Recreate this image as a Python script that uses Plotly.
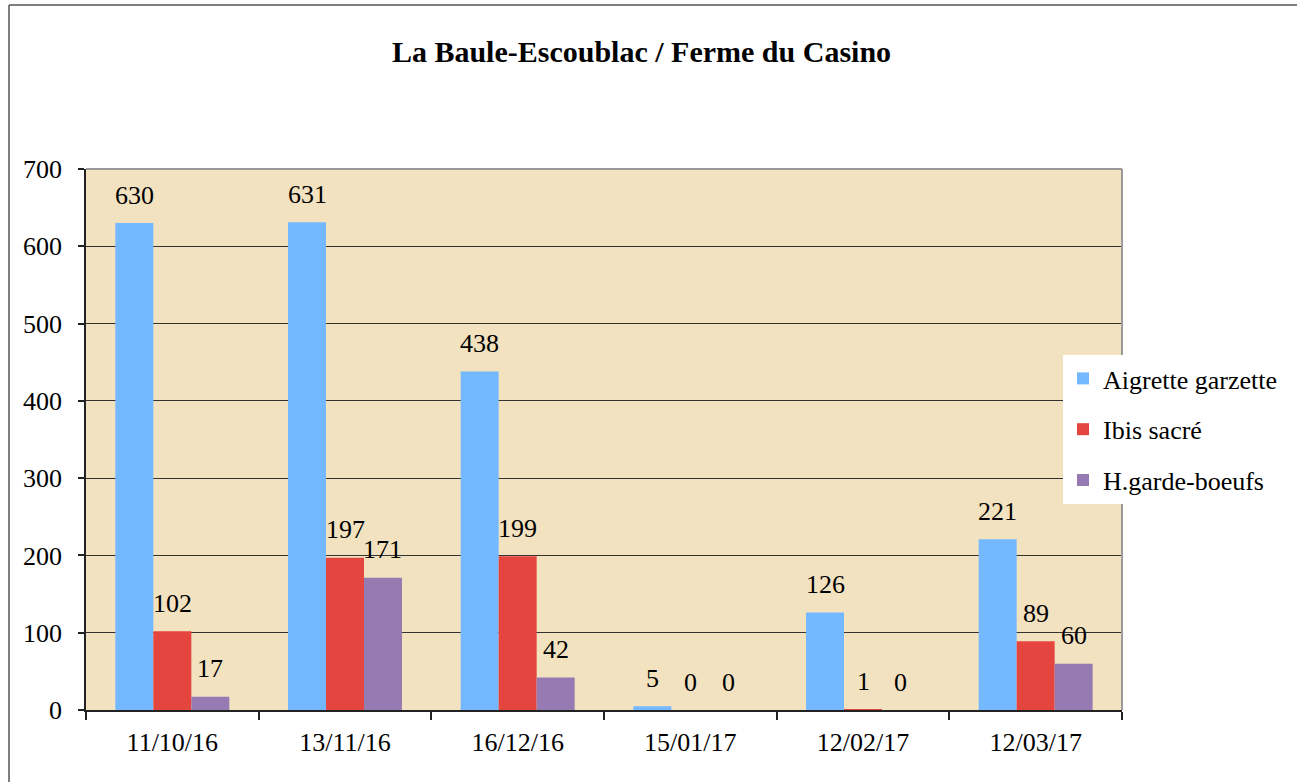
import plotly.graph_objects as go

dates = ["11/10/16", "13/11/16", "16/12/16", "15/01/17", "12/02/17", "12/03/17"]
series_names = ["Aigrette garzette", "Ibis sacré", "H.garde-boeufs"]
aigrette = [630, 631, 438, 5, 126, 221]
ibis = [102, 197, 199, 0, 1, 89]
garde_boeufs = [17, 171, 42, 0, 0, 60]
colors = ["#74b8ff", "#e5453f", "#957bb2"]

W, H = 1297, 782
ML, MR, MT, MB = 86, 175, 169, 72
PW = W - ML - MR
PH = H - MT - MB
FONT = "'Liberation Serif', 'Times New Roman', Times, serif"

fig = go.Figure()
all_vals = [aigrette, ibis, garde_boeufs]
for name, vals, col in zip(series_names, all_vals, colors):
    fig.add_trace(go.Bar(
        x=dates, y=vals, name=name, marker=dict(color=col, line=dict(width=0)),
        legendgroup=name,
    ))

# data labels
cat_w = PW / len(dates)
bar_w = cat_w * (1 - 0.34) / 3
annotations = []
for i, vals in enumerate(all_vals):
    shift = (i - 1) * bar_w
    for d, v in zip(dates, vals):
        annotations.append(dict(
            x=d, y=v, xref="x", yref="y", text=str(v), showarrow=False,
            xshift=shift, yshift=28, yanchor="middle",
            font=dict(family=FONT, size=26, color="#000"),
        ))

def px_x(p):
    return (p - ML) / PW

def px_y(p):
    return (H - MB - p) / PH

shapes = [
    # outer frame (left & top)
    dict(type="line", xref="paper", yref="paper", x0=px_x(9), x1=px_x(9), y0=px_y(5), y1=px_y(800),
         line=dict(color="#555", width=1.5)),
    dict(type="line", xref="paper", yref="paper", x0=px_x(9), x1=px_x(1310), y0=px_y(5), y1=px_y(5),
         line=dict(color="#555", width=1.5)),
    # plot area top & right border
    dict(type="line", xref="paper", yref="paper", x0=0, x1=1, y0=1, y1=1,
         line=dict(color="#9a9a9a", width=2)),
    dict(type="line", xref="paper", yref="paper", x0=1, x1=1, y0=0, y1=1,
         line=dict(color="#9a9a9a", width=2)),
]

fig.update_layout(
    width=W, height=H,
    margin=dict(l=ML, r=MR, t=MT, b=MB, pad=0),
    paper_bgcolor="white",
    plot_bgcolor="#f2e2c0",
    barmode="group", bargap=0.34, bargroupgap=0,
    font=dict(family=FONT, size=26, color="#000"),
    title=dict(text="<b>La Baule-Escoublac / Ferme du Casino</b>",
               x=641.5 / W, xref="container", xanchor="center",
               y=1 - 51 / H, yref="container", yanchor="middle",
               font=dict(family=FONT, size=30, color="#000")),
    showlegend=True,
    legend=dict(
        x=px_x(1063), y=px_y(355), xanchor="left", yanchor="top",
        bgcolor="white", borderwidth=0,
        font=dict(family=FONT, size=26, color="#000"),
        tracegroupgap=14, itemwidth=30,
    ),
    annotations=annotations,
    shapes=shapes,
    xaxis=dict(
        type="category", showgrid=False, showline=True, linecolor="#222", linewidth=1.5,
        ticks="outside", tickson="boundaries", ticklen=8, tickcolor="#222", tickwidth=1.5,
        tickfont=dict(family=FONT, size=26, color="#000"), ticklabelstandoff=8,
        zeroline=False,
    ),
    yaxis=dict(
        range=[0, 700], tickvals=[0, 100, 200, 300, 400, 500, 600, 700],
        showgrid=True, gridcolor="#333", gridwidth=1,
        showline=True, linecolor="#222", linewidth=1.5,
        ticks="outside", ticklen=6, tickcolor="#222", tickwidth=1.5,
        tickfont=dict(family=FONT, size=26, color="#000"), ticklabelstandoff=11,
        zeroline=False,
    ),
)

fig.write_html("out.html", config={"displayModeBar": False},
               post_script="document.body.style.margin='0';document.body.style.padding='0';")
